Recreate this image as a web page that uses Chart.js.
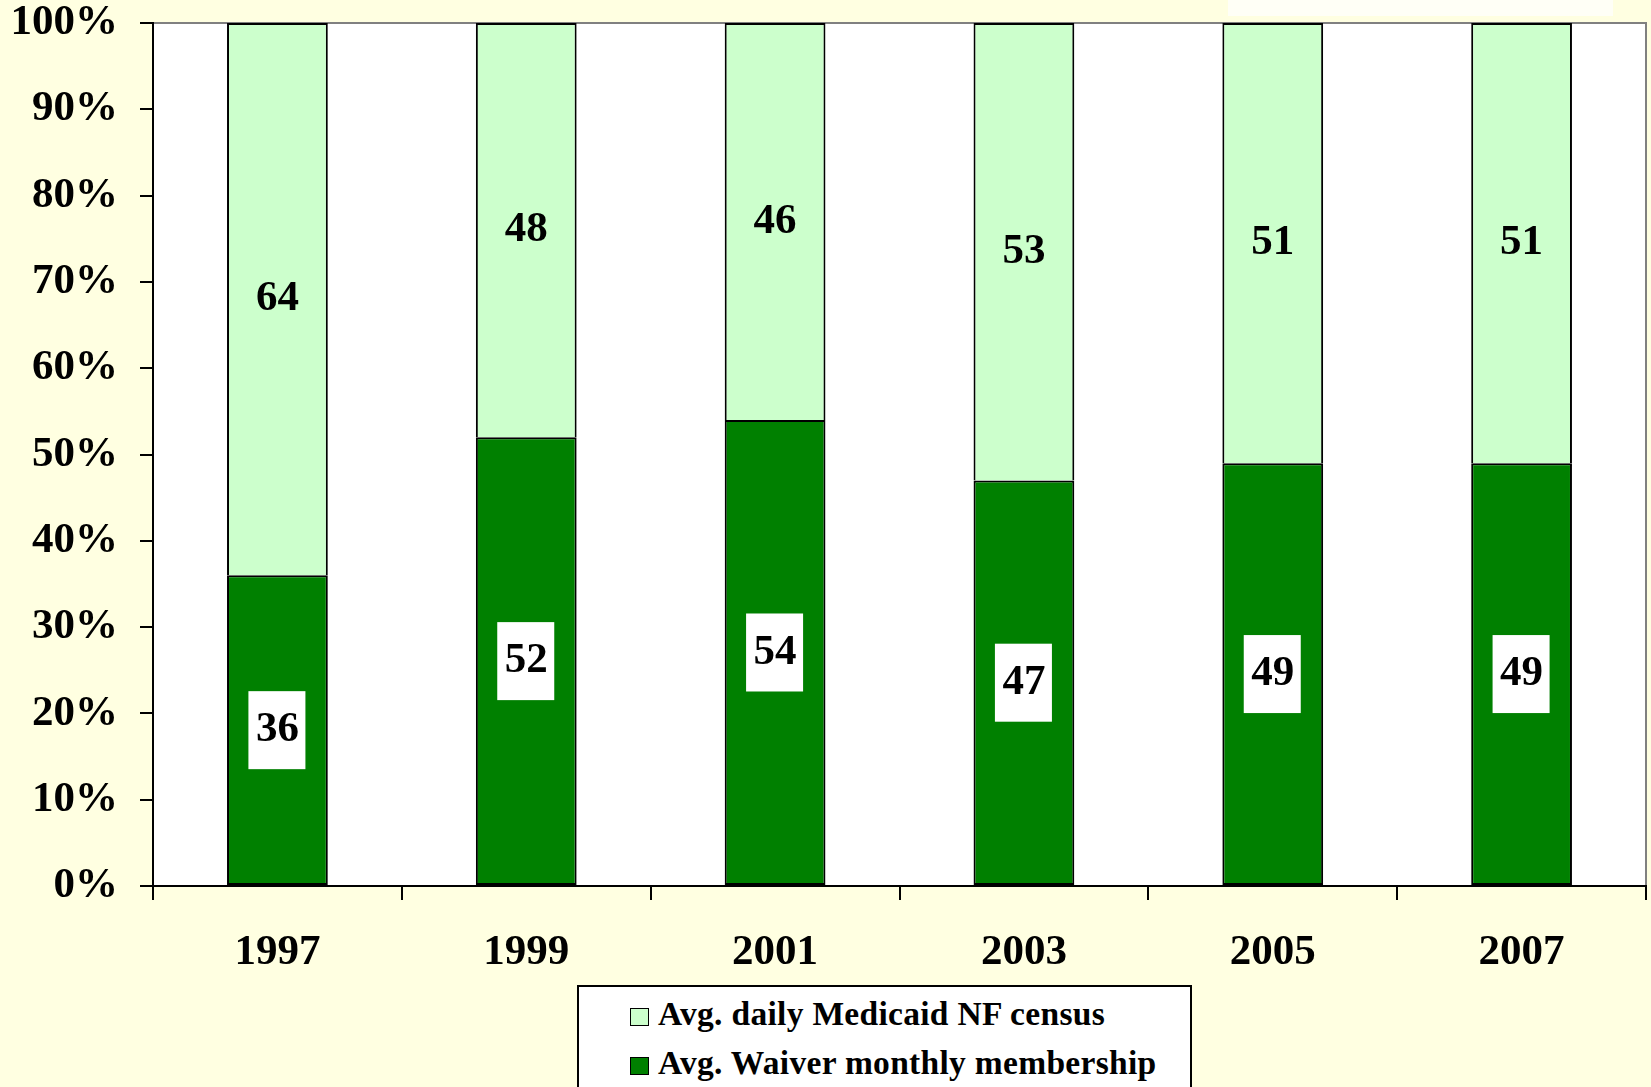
<!DOCTYPE html>
<html lang="en">
<head>
  <meta charset="UTF-8">
  <title>Waiver vs NF census</title>
  <script src="https://cdn.jsdelivr.net/npm/chart.js"></script>
  <style>
    body {
      margin: 0;
      background-color: #ffffe1;
      font-family: "Liberation Serif", "Times New Roman", serif;
    }
    #wrap {
      position: relative;
      width: 1651px;
      height: 1087px;
      overflow: hidden;
    }
    #glare {
      position: absolute;
      left: 1228px;
      top: 0;
      width: 385px;
      height: 16px;
      background: #fffff6;
    }
    #legend {
      position: absolute;
      left: 577px;
      top: 985px;
      width: 611px;
      height: 140px;
      padding-top: 2px;
      border: 2px solid #000;
      background: #fff;
    }
    .row {
      height: 49px;
      line-height: 49px;
      font-weight: bold;
      font-size: 33.5px;
      letter-spacing: .3px;
      color: #000;
      white-space: nowrap;
    }
    .box {
      display: inline-block;
      width: 17px;
      height: 16px;
      margin-left: 51px;
      margin-right: 9px;
      border: 1.5px solid #000;
      vertical-align: -1px;
    }
  </style>
</head>
<body>
<div id="wrap">
  <div id="glare"></div>
  <canvas id="chart" width="1651" height="1087"></canvas>
  <div id="legend"></div>
</div>
<script>
  // dados
  var years = ['1997', '1999', '2001', '2003', '2005', '2007'];
  var waiver = [36, 52, 54, 47, 49, 49];
  var nfCensus = [64, 48, 46, 53, 51, 51];
  var yTicks = [0, 10, 20, 30, 40, 50, 60, 70, 80, 90, 100];

  var darkGreen = '#008000';
  var lightGreen = '#ccffcc';
  var bold = { family: 'Liberation Serif', size: 43, weight: 'bold' };

  // fundo branco da area do grafico + bordas cinza
  var plotBg = {
    id: 'plotBg',
    beforeDraw: function (chart) {
      var ctx = chart.ctx, a = chart.chartArea;
      ctx.save();
      ctx.fillStyle = '#ffffff';
      ctx.fillRect(a.left, a.top, a.right - a.left, a.bottom - a.top);
      ctx.strokeStyle = '#808080';
      ctx.lineWidth = 2;
      ctx.beginPath();
      ctx.moveTo(a.left, a.top);
      ctx.lineTo(a.right, a.top);
      ctx.lineTo(a.right, a.bottom);
      ctx.stroke();
      ctx.restore();
    }
  };

  // rotulos dos valores no meio de cada segmento
  var valueLabels = {
    id: 'valueLabels',
    afterDatasetsDraw: function (chart) {
      var ctx = chart.ctx;
      ctx.save();
      ctx.font = 'bold 43px "Liberation Serif"';
      ctx.textAlign = 'center';
      ctx.textBaseline = 'middle';
      chart.data.datasets.forEach(function (ds, i) {
        var meta = chart.getDatasetMeta(i);
        meta.data.forEach(function (bar, j) {
          var p = bar.getProps(['x', 'y', 'base'], true);
          var cy = (p.y + p.base) / 2;
          if (i === 0) {
            ctx.fillStyle = '#ffffff';
            ctx.fillRect(p.x - 29, cy - 39, 57, 78);
          }
          ctx.fillStyle = '#000000';
          ctx.fillText(String(ds.data[j]), p.x, cy);
        });
      });
      ctx.restore();
    }
  };

  var ctx = document.getElementById('chart').getContext('2d');
  var chart = new Chart(ctx, {
    type: 'bar',
    data: {
      labels: years,
      datasets: [
        {
          label: 'Avg. Waiver monthly membership',
          data: waiver,
          backgroundColor: darkGreen,
          borderColor: '#000',
          borderWidth: { left: 2, right: 2, top: 2, bottom: 2 },
          borderSkipped: false
        },
        {
          label: 'Avg. daily Medicaid NF census',
          data: nfCensus,
          backgroundColor: lightGreen,
          borderColor: '#000',
          borderWidth: { left: 2, right: 2, top: 2, bottom: 0 },
          borderSkipped: false
        }
      ]
    },
    options: {
      responsive: false,
      animation: false,
      barPercentage: 0.405,
      categoryPercentage: 1,
      layout: { padding: { top: 23, right: 5, left: 0, bottom: 101 } },
      plugins: {
        legend: { display: false },
        tooltip: { enabled: false }
      },
      scales: {
        x: {
          stacked: true,
          afterFit: function (s) {
            s.height = 100;
            s.paddingLeft = 0;
            s.paddingRight = 0;
          },
          grid: {
            display: true,
            drawOnChartArea: false,
            drawTicks: true,
            tickLength: 14,
            color: '#000',
            lineWidth: 2,
            offset: true
          },
          border: { color: '#000', width: 2 },
          ticks: { font: bold, color: '#000', padding: 27 }
        },
        y: {
          stacked: true,
          min: 0,
          max: 100,
          afterFit: function (s) {
            s.width = 153;
            s.paddingTop = 0;
            s.paddingBottom = 0;
          },
          afterBuildTicks: function (s) {
            s.ticks = yTicks.map(function (v) { return { value: v }; });
          },
          grid: {
            display: true,
            drawOnChartArea: false,
            drawTicks: true,
            tickLength: 13,
            color: '#000',
            lineWidth: 2
          },
          border: { color: '#000', width: 2 },
          ticks: {
            font: bold,
            color: '#000',
            padding: 22,
            callback: function (v) { return v + '%'; }
          }
        }
      }
    },
    plugins: [plotBg, valueLabels]
  });

  // legenda em html, com caixa como no original
  var legend = document.getElementById('legend');
  chart.data.datasets.slice().reverse().forEach(function (ds) {
    var row = document.createElement('div');
    row.className = 'row';
    var box = document.createElement('span');
    box.className = 'box';
    box.style.background = ds.backgroundColor;
    row.appendChild(box);
    row.appendChild(document.createTextNode(ds.label));
    legend.appendChild(row);
  });
</script>
</body>
</html>
